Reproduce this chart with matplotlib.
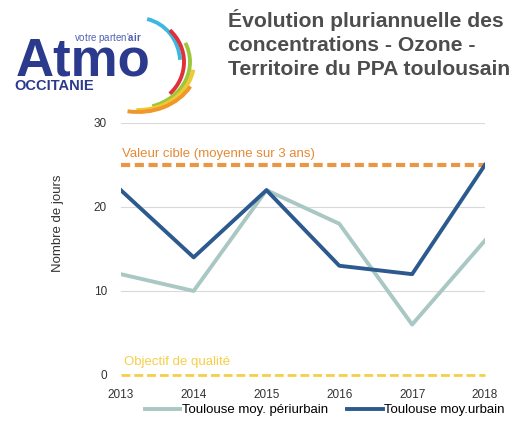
import matplotlib.pyplot as plt
from matplotlib.patches import Arc

# data
years = [2013, 2014, 2015, 2016, 2017, 2018]
periurbain = [12, 10, 22, 18, 6, 16]
urbain = [22, 14, 22, 13, 12, 25]
valeur_cible = 25
objectif_qualite = 0

plt.rcParams['font.family'] = ['Liberation Sans', 'DejaVu Sans']
plt.rcParams['mathtext.fontset'] = 'custom'
plt.rcParams['mathtext.bf'] = 'Liberation Sans:bold'

fig = plt.figure(figsize=(5.3, 4.24), dpi=100)

# logo / title layer in pixel coords
bg = fig.add_axes([0, 0, 1, 1])
bg.set_xlim(0, 530)
bg.set_ylim(424, 0)
bg.axis('off')

bg.text(16, 76, 'Atmo', fontsize=38, fontweight='bold', color='#2b3a8c', va='baseline')
bg.text(74, 41, r"votre parten'$\mathbf{air}$", fontsize=7, color='#4f60ac', va='baseline')
bg.text(14, 90, 'OCCITANIE', fontsize=10.5, fontweight='bold', color='#2b3a8c', va='baseline')

# coloured arcs of the logo: (rx, ry, start angle, end angle, colour), angles on screen
arc_cx, arc_cy = 138, 62
arcs = [(42, 44, 78, 3, '#3cb8e0'), (46, 44, 45, -45, '#e0303a'),
        (52, 46, 22, -72, '#9cc63c'), (56, 48, -8, -92, '#f0c832'),
        (60, 50, -25, -102, '#f0962a')]
for rx, ry, a1, a2, c in arcs:
    bg.add_patch(Arc((arc_cx, arc_cy), 2 * rx, 2 * ry, theta1=-a1, theta2=-a2,
                     color=c, lw=2.8))

title = 'Évolution pluriannuelle des\nconcentrations - Ozone -\nTerritoire du PPA toulousain'
bg.text(228, 9, title, fontsize=15.2, fontweight='bold', color='#4d4d4d',
        va='top', ha='left', linespacing=1.32)

# chart
ax = fig.add_axes([0.228, 0.1156, 0.687, 0.5945])
ax.set_zorder(2)
ax.patch.set_alpha(0)

ax.axhline(valeur_cible, color='#eb9645', lw=3, ls=(0, (2.2, 1.1)), zorder=1)
ax.axhline(objectif_qualite, color='#f5cf4a', lw=2, ls=(0, (3.2, 1.4)), zorder=1, clip_on=False)
ax.text(2013.02, 26.3, 'Valeur cible (moyenne sur 3 ans)', color='#e58a35',
        fontsize=9.5, va='center')
ax.text(2013.05, 1.6, 'Objectif de qualité', color='#f5cf4a',
        fontsize=9.5, va='center')

ax.plot(years, periurbain, color='#a9c8c4', lw=2.8, label='Toulouse moy. périurbain', zorder=2)
ax.plot(years, urbain, color='#2c5a8e', lw=2.8, label='Toulouse moy.urbain', zorder=3)

ax.set_xlim(2013, 2018)
ax.set_ylim(0, 30)
ax.set_yticks([0, 10, 20, 30])
ax.set_xticks(years)
ax.grid(axis='y', color='#d9d9d9', lw=0.8)
ax.set_axisbelow(True)
for s in ax.spines.values():
    s.set_visible(False)
ax.tick_params(length=0, labelsize=8.5, colors='#333333')
ax.tick_params(axis='x', pad=10)
ax.tick_params(axis='y', pad=10)
ax.set_ylabel('Nombre de jours', fontsize=9.5, color='#333333')
ax.yaxis.set_label_coords(-0.155, 0.6)

ax.legend(loc='center', bbox_to_anchor=(0.56, -0.139), ncol=2, frameon=False,
          fontsize=9.5, handlelength=2.7, handletextpad=0.1, columnspacing=1.5)

fig.savefig('out.png', dpi=100)
